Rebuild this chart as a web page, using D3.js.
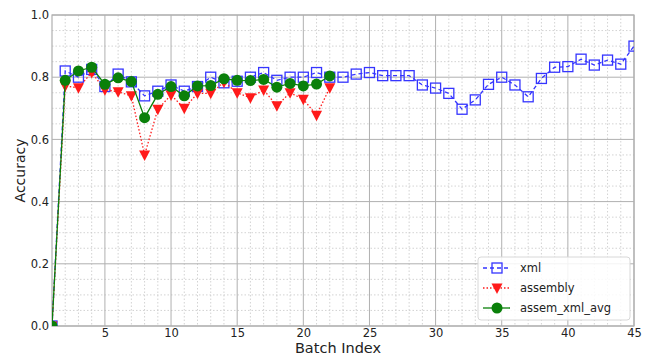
<!DOCTYPE html>
<html>
<head>
<meta charset="utf-8">
<script src="https://cdn.jsdelivr.net/npm/d3@7"></script>
<style>
  body { margin: 0; background: #fff; }
  text { font-family: "DejaVu Sans", sans-serif; fill: #222; }
</style>
</head>
<body>
<script>
// batch indices
const xmlBatches = d3.range(1, 46);
const mixBatches = d3.range(1, 23);

const xmlAcc = [0.0, 0.82, 0.80, 0.825, 0.77, 0.81, 0.785, 0.74, 0.755, 0.775,
  0.755, 0.77, 0.80, 0.782, 0.787, 0.80, 0.815, 0.79, 0.80, 0.80,
  0.815, 0.80, 0.80, 0.81, 0.815, 0.805, 0.805, 0.805, 0.775, 0.765,
  0.748, 0.697, 0.727, 0.777, 0.80, 0.775, 0.737, 0.796, 0.832, 0.834,
  0.858, 0.839, 0.855, 0.842, 0.90];
const assemblyAcc = [0.0, 0.772, 0.766, 0.815, 0.76, 0.753, 0.74, 0.55, 0.697, 0.743,
  0.70, 0.748, 0.748, 0.784, 0.75, 0.734, 0.759, 0.708, 0.75, 0.729,
  0.678, 0.766];
const avgAcc = [0.0, 0.79, 0.82, 0.832, 0.777, 0.798, 0.786, 0.67, 0.745, 0.77,
  0.74, 0.772, 0.773, 0.795, 0.79, 0.789, 0.793, 0.768, 0.78, 0.772,
  0.778, 0.804];

const xTicks = [5, 10, 15, 20, 25, 30, 35, 40, 45];
const yTicks = [0, 0.2, 0.4, 0.6, 0.8, 1.0];

const margin = { top: 15, right: 12, bottom: 29, left: 52 };
const W = 646, H = 355;
const width = W - margin.left - margin.right;
const height = H - margin.top - margin.bottom;

const svg = d3.select("body").append("svg")
    .attr("width", W)
    .attr("height", H);

svg.append("defs").append("clipPath").attr("id", "clip")
    .append("rect").attr("width", width).attr("height", height);

const g = svg.append("g")
    .attr("transform", `translate(${margin.left},${margin.top})`);

const x = d3.scaleLinear().domain([1, 45]).range([0, width]);
const y = d3.scaleLinear().domain([0, 1]).range([height, 0]);

// minor grid (dotted)
g.append("g").selectAll("line")
    .data(d3.range(2, 45).filter(v => v % 5 !== 0))
    .join("line")
    .attr("x1", d => x(d)).attr("x2", d => x(d))
    .attr("y1", 0).attr("y2", height)
    .attr("stroke", "#c8c8c8").attr("stroke-width", 0.8)
    .attr("stroke-dasharray", "1.5,2");
g.append("g").selectAll("line")
    .data(d3.range(1, 20).map(i => i * 0.05).filter((v, i) => (i + 1) % 4 !== 0))
    .join("line")
    .attr("x1", 0).attr("x2", width)
    .attr("y1", d => y(d)).attr("y2", d => y(d))
    .attr("stroke", "#c8c8c8").attr("stroke-width", 0.8)
    .attr("stroke-dasharray", "1.5,2");

// major grid
g.append("g").selectAll("line")
    .data(xTicks)
    .join("line")
    .attr("x1", d => x(d)).attr("x2", d => x(d))
    .attr("y1", 0).attr("y2", height)
    .attr("stroke", "#b0b0b0").attr("stroke-width", 1);
g.append("g").selectAll("line")
    .data(yTicks)
    .join("line")
    .attr("x1", 0).attr("x2", width)
    .attr("y1", d => y(d)).attr("y2", d => y(d))
    .attr("stroke", "#b0b0b0").attr("stroke-width", 1);

// axes
const xAxis = g.append("g")
    .attr("transform", `translate(0,${height})`)
    .call(d3.axisBottom(x).tickValues(xTicks).tickSize(0).tickPadding(3));
const yAxis = g.append("g")
    .call(d3.axisLeft(y).tickValues(yTicks).tickSize(0).tickPadding(3).tickFormat(d3.format(".1f")));
[xAxis, yAxis].forEach(a => {
    a.select(".domain").remove();
    a.selectAll("text").attr("font-size", 11.5).attr("font-family", "DejaVu Sans").attr("fill", "#222");
});

// frame
g.append("rect")
    .attr("width", width).attr("height", height)
    .attr("fill", "none").attr("stroke", "#b0b0b0").attr("stroke-width", 1.2);

const plot = g.append("g").attr("clip-path", "url(#clip)");

const line = d3.line().x(d => x(d[0])).y(d => y(d[1]));

const series = [
    { name: "xml", xs: xmlBatches, ys: xmlAcc, color: "#3535ff", dash: "4,3", marker: "square" },
    { name: "assembly", xs: mixBatches, ys: assemblyAcc, color: "#ff1a1a", dash: "1.5,2", marker: "triangle" },
    { name: "assem_xml_avg", xs: mixBatches, ys: avgAcc, color: "#0a800a", dash: null, marker: "circle" }
];

function drawMarker(sel, type, color) {
    if (type === "square") {
        sel.append("rect").attr("x", -5).attr("y", -5).attr("width", 10).attr("height", 10)
            .attr("fill", "none").attr("stroke", color).attr("stroke-width", 1.3);
    } else if (type === "triangle") {
        sel.append("path").attr("d", "M-5.5,-4.5L5.5,-4.5L0,6Z").attr("fill", color);
    } else {
        sel.append("circle").attr("r", 5.5).attr("fill", color);
    }
}

series.forEach(s => {
    const pts = s.xs.map((v, i) => [v, s.ys[i]]);
    plot.append("path")
        .datum(pts)
        .attr("fill", "none")
        .attr("stroke", s.color)
        .attr("stroke-width", 1.3)
        .attr("stroke-dasharray", s.dash)
        .attr("d", line);
    plot.append("g").selectAll("g")
        .data(pts)
        .join("g")
        .attr("transform", d => `translate(${x(d[0])},${y(d[1])})`)
        .each(function () { drawMarker(d3.select(this), s.marker, s.color); });
});

// legend
const lg = g.append("g").attr("transform", `translate(${width - 156},${height - 69})`);
lg.append("rect")
    .attr("width", 152).attr("height", 63).attr("rx", 3)
    .attr("fill", "rgba(255,255,255,0.85)").attr("stroke", "#d8d8d8");
series.forEach((s, i) => {
    const row = lg.append("g").attr("transform", `translate(5,${11 + i * 20})`);
    row.append("line").attr("x1", 0).attr("x2", 27)
        .attr("stroke", s.color).attr("stroke-width", 1.3)
        .attr("stroke-dasharray", s.dash);
    drawMarker(row.append("g").attr("transform", "translate(14,0)"), s.marker, s.color);
    row.append("text").attr("x", 37).attr("dy", "0.35em")
        .attr("font-size", 11.5).text(s.name);
});

// axis titles
svg.append("text")
    .attr("x", 338).attr("y", H - 2)
    .attr("text-anchor", "middle").attr("font-size", 14.5)
    .text("Batch Index");
svg.append("text")
    .attr("transform", `translate(25,${margin.top + y(0.5)}) rotate(-90)`)
    .attr("text-anchor", "middle").attr("font-size", 14)
    .text("Accuracy");
</script>
</body>
</html>
